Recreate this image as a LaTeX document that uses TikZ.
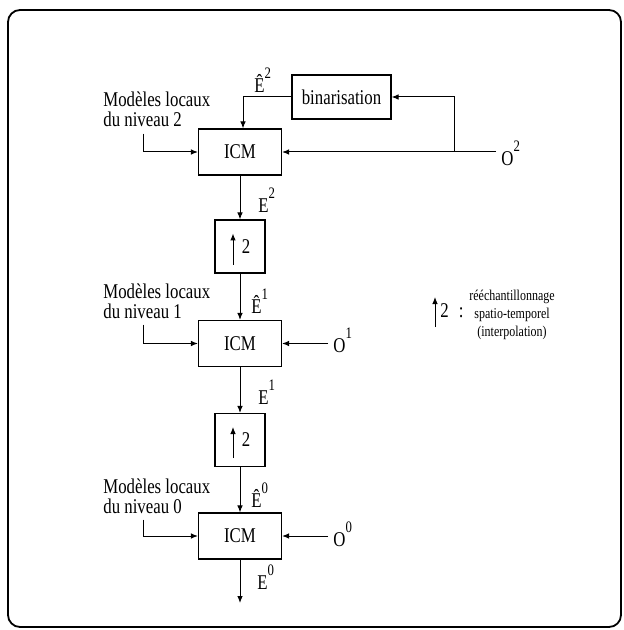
\documentclass[tikz,border=0pt]{standalone}
\usepackage{fontspec}
\setmainfont{Liberation Serif}[FakeStretch=0.8]
\usetikzlibrary{arrows.meta}
\NewDocumentCommand{\Sig}{m m}{#1\raisebox{7pt}{\fontsize{8}{8}\selectfont #2}}
\tikzset{
    block/.style={draw, line width=0.6pt, minimum width=41.5pt, minimum height=23pt, inner sep=0pt},
    upbox/.style={draw, line width=0.6pt, minimum width=25pt, minimum height=26.5pt, inner sep=0pt},
    lbl/.style={anchor=west, inner sep=0pt},
    olbl/.style={anchor=west, inner sep=2.5pt},
    mod/.style={anchor=north west, align=left, inner sep=0pt, font=\fontsize{10.5}{10}\selectfont},
    tip/.style={-{Latex[length=3.5pt,width=2.8pt]}, line width=0.5pt},
}

\begin{document}
\begin{tikzpicture}[x=0.5pt, y=-0.5pt, font=\fontsize{10.5}{12}\selectfont]

    \useasboundingbox (0,0) rectangle (624,630);
    \draw[line width=0.9pt, rounded corners=6pt] (8,10) rectangle (621,627);

    % blocks
    \node[block] (icmA) at (240,152) {ICM};
    \node[block, minimum width=49.5pt, minimum height=22pt] (bin) at (341.5,97) {binarisation};
    \node[upbox] (upA) at (240,246.5) {\hspace*{6pt}2};
    \node[block] (icmB) at (240,343.5) {ICM};
    \node[upbox] (upB) at (240,440) {\hspace*{6pt}2};
    \node[block] (icmC) at (240,536) {ICM};
    \coordinate (out) at (240,603);
    \foreach \n in {A,B} {
        \draw[tip] ([shift={(-3.5pt,-9pt)}]up\n.center) -- ([shift={(-3.5pt,6.5pt)}]up\n.center);
    }

    % signals
    \node[lbl] (ehA) at (254,80) {\Sig{Ê}{2}};
    \node[lbl] (eA) at (258,200) {\Sig{E}{2}};
    \node[lbl] (ehB) at (251,301) {\Sig{Ê}{1}};
    \node[lbl] (eB) at (258,392) {\Sig{E}{1}};
    \node[lbl] (ehC) at (251,495) {\Sig{Ê}{0}};
    \node[lbl] (eC) at (257,577) {\Sig{E}{0}};
    \node[olbl] (oA) at (496,153) {\Sig{O}{2}};
    \node[olbl] (oB) at (328,340) {\Sig{O}{1}};
    \node[olbl] (oC) at (328,534) {\Sig{O}{0}};

    \draw[tip] (icmA) -- (upA);
    \draw[tip] (upA) -- (icmB);
    \draw[tip] (icmB) -- (upB);
    \draw[tip] (upB) -- (icmC);
    \draw[tip] (icmC) -- (out);

    % observations and feedback
    \draw[tip] (oA.west |- icmA) -- (icmA.east);
    \coordinate (fb) at (454,152);
    \draw[tip] (fb) |- (bin.east);
    \draw[tip] (bin.west) -| ([xshift=1.5pt]icmA.north);
    \draw[tip] (oB.west |- icmB) -- (icmB.east);
    \draw[tip] (oC.west |- icmC) -- (icmC.east);

    % local models
    \foreach \n/\y/\lev in {A/92/2, B/283/1, C/478/0} {
        \node[mod] (m\n) at (103,\y) {Modèles locaux\\du niveau \lev};
        \draw[tip] ([xshift=20pt,yshift=-3pt]m\n.south west) |- (icm\n.west);
    }

    % legend
    \draw[tip] (435,327) -- (435,297);
    \node[lbl] (key) at (440,311) {2\hspace{5pt}:};
    \node[align=center, inner sep=0pt, font=\fontsize{7.5}{9}\selectfont] (keytxt) at (512,315)
        {rééchantillonnage\\spatio-temporel\\(interpolation)};
\end{tikzpicture}
\end{document}
